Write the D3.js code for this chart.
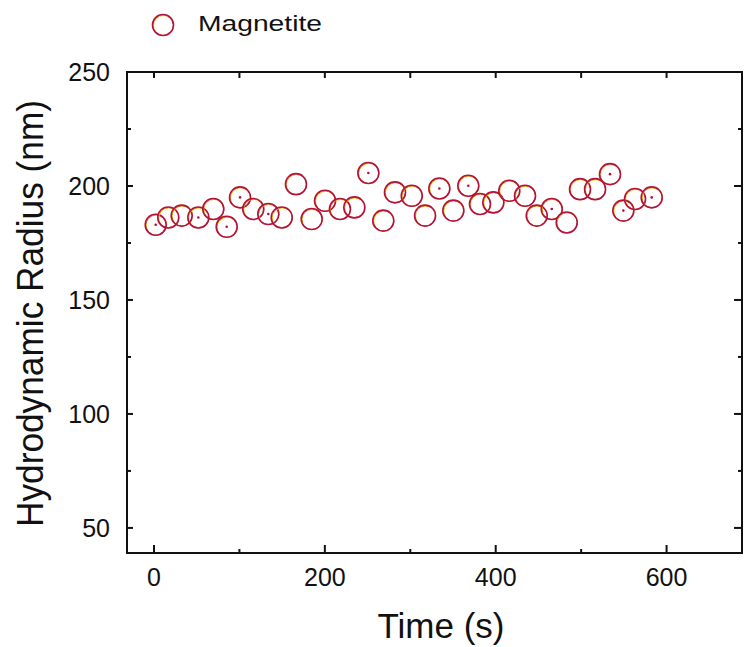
<!DOCTYPE html>
<html><head><meta charset="utf-8">
<script src="https://cdn.jsdelivr.net/npm/d3@7"></script>
<style>body{margin:0;background:#fff}svg{display:block}text{font-family:"Liberation Sans",Arial,sans-serif;fill:#111}</style>
</head><body>
<script>
// Data
const seriesName = "Magnetite";
const timeS = [2.0,16.7,32.4,51.9,69.4,85.1,100.7,116.2,133.8,149.5,166.2,184.6,200.2,217.7,234.5,250.9,268.4,282.1,301.7,317.3,334.0,350.4,367.9,381.6,397.2,415.9,434.3,448.0,465.6,483.1,498.7,516.3,533.8,549.4,563.1,582.6];
const radiusNm = [183.0,186.2,187.0,186.2,189.9,182.1,195.0,189.9,187.7,186.2,200.8,185.5,193.5,189.9,190.6,205.7,184.8,197.2,195.7,187.0,198.9,189.2,200.1,192.1,192.8,197.9,195.7,187.0,189.9,184.0,198.6,198.6,205.2,189.2,194.3,195.0];
const dotted = [0,3,5,6,8,15,20,22,28,32,33,35];
const xTicks = [0,200,400,600];
const xMinor = [100,300,500];
const yTicks = [50,100,150,200,250];
const yMinor = [75,125,175,225];
const xTitle = "Time (s)";
const yTitle = "Hydrodynamic Radius (nm)";

const W=744,H=647;
const L=127,R=742,T=72,B=553;
const svg=d3.select("body").append("svg").attr("width",W).attr("height",H);
const x=d3.scaleLinear().domain([-31.6,688.3]).range([L,R]);
const y=d3.scaleLinear().domain([39,250]).range([B,T]);

// ticks
const g=svg.append("g");
function tick(x1,y1,x2,y2){g.append("line").attr("x1",x1).attr("y1",y1).attr("x2",x2).attr("y2",y2).attr("stroke","#111").attr("stroke-width",2);}
xTicks.forEach(v=>{tick(x(v),B,x(v),B-8);});
xMinor.forEach(v=>{tick(x(v),B,x(v),B-4);});
xTicks.concat(xMinor).forEach(v=>{tick(x(v),T,x(v),T+6);});
yTicks.forEach(v=>{tick(L,y(v),L+6,y(v));tick(R,y(v),R-8,y(v));});
yMinor.forEach(v=>{tick(L,y(v),L+4,y(v));tick(R,y(v),R-4,y(v));});
// frame
svg.append("rect").attr("x",L).attr("y",T).attr("width",R-L).attr("height",B-T)
  .attr("fill","none").attr("stroke","#111").attr("stroke-width",2);

// tick labels
svg.append("g").selectAll("text").data(xTicks).join("text")
  .attr("x",d=>x(d)).attr("y",586).attr("text-anchor","middle").attr("font-size",25).text(d=>d);
svg.append("g").selectAll("text").data(yTicks).join("text")
  .attr("x",110).attr("y",d=>y(d)+9).attr("text-anchor","end").attr("font-size",25).text(d=>d);

// titles
svg.append("text").attr("x",441).attr("y",638).attr("text-anchor","middle").attr("font-size",35)
  .attr("textLength",127).attr("lengthAdjust","spacingAndGlyphs").text(xTitle);
svg.append("text").attr("transform","translate(43,313.5) rotate(-90)").attr("text-anchor","middle")
  .attr("font-size",36).attr("textLength",427).attr("lengthAdjust","spacingAndGlyphs").text(yTitle);

// markers
function marker(sel,cx,cy,r){
  sel.append("circle").attr("cx",cx+0.5).attr("cy",cy+0.5).attr("r",r-0.4).attr("fill","none").attr("stroke","#f2b000").attr("stroke-width",1.0);
  sel.append("circle").attr("cx",cx).attr("cy",cy).attr("r",r).attr("fill","none").attr("stroke","#b3123c").attr("stroke-width",1.6);
}
const pts=svg.append("g");
timeS.forEach((t,i)=>{
  const gi=pts.append("g");
  marker(gi,x(t),y(radiusNm[i]),10.5);
  if(dotted.includes(i)) gi.append("circle").attr("cx",x(t)).attr("cy",y(radiusNm[i])).attr("r",1.3).attr("fill","#b3123c");
});

// legend
const lg=svg.append("g");
marker(lg,163,25,10.5);
lg.append("text").attr("x",198).attr("y",31).attr("font-size",22).attr("textLength",124)
  .attr("lengthAdjust","spacingAndGlyphs").text(seriesName);
</script>
</body></html>
